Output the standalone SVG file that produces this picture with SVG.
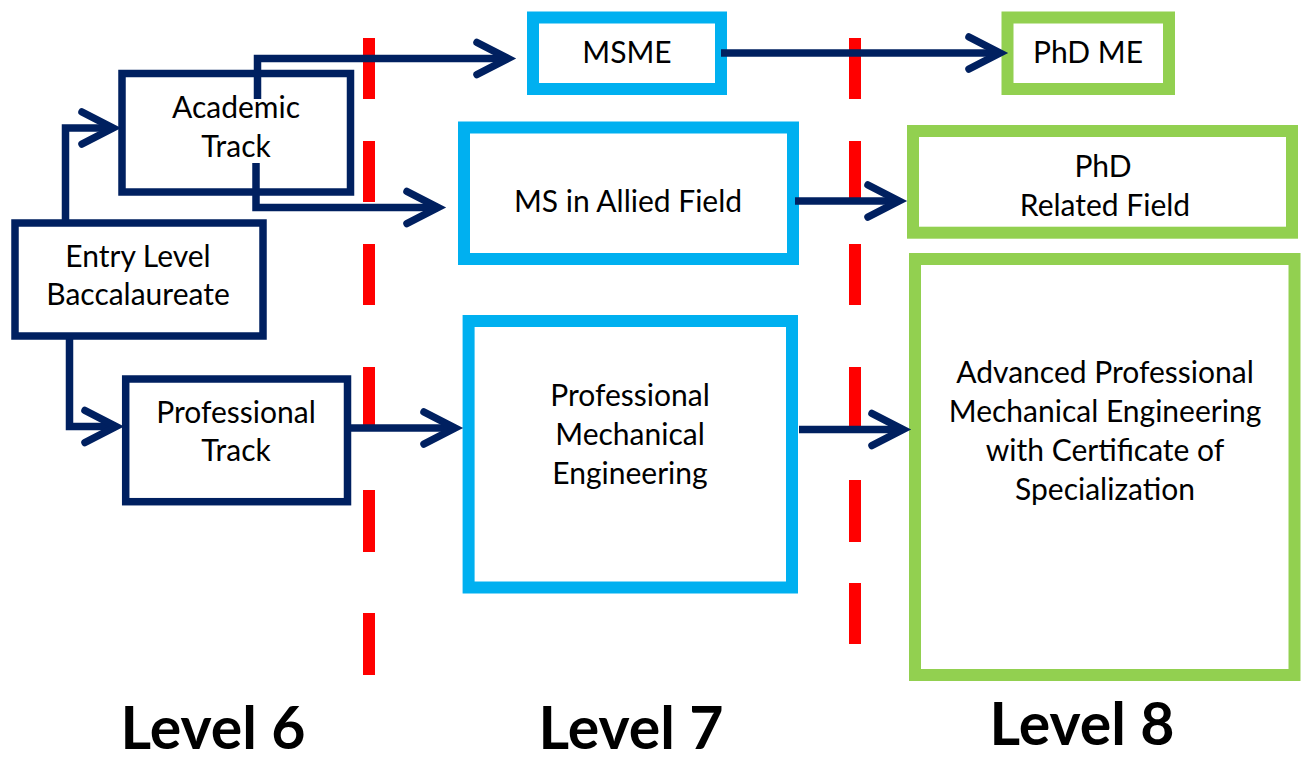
<svg xmlns="http://www.w3.org/2000/svg" width="1301" height="762" viewBox="0 0 1301 762">
<defs>
<style>
.dk{fill:none;stroke:#002060;stroke-width:7.5}
.lb{fill:none;stroke:#00B0F0;stroke-width:12}
.gr{fill:none;stroke:#92D050;stroke-width:12}
.t{font-family:Lato,"Liberation Sans",sans-serif;font-size:30px;fill:#000;text-anchor:middle}
.lv{font-family:Lato,"Liberation Sans",sans-serif;font-size:59px;font-weight:bold;fill:#000;text-anchor:middle}
.cn{fill:none;stroke:#002060;stroke-width:7.5;stroke-linejoin:miter}
.rd{stroke:#FF0000;stroke-width:12}
</style>
<marker id="ah" markerUnits="userSpaceOnUse" viewBox="-40 -22 46 44" refX="0" refY="0" markerWidth="46" markerHeight="44" orient="auto" overflow="visible">
<path d="M-31,-16 L0,0 L-31,16" fill="none" stroke="#002060" stroke-width="7.5" stroke-linecap="round" stroke-linejoin="miter"/>
</marker>
</defs>
<rect width="1301" height="762" fill="#fff"/>
<g id="dividers">
<path class="rd" d="M369,38V99M369,141V202M369,244V305M369,367V428M369,490V552M369,613V675"/>
<path class="rd" d="M855,38V99M855,141V202M855,244V305M855,367V428M855,480V542M855,583V644"/>
</g>
<g id="entry">
<rect class="dk" x="15" y="223" width="248" height="113"/>
<text class="t" x="138" y="267">Entry Level</text>
<text class="t" x="138" y="305">Baccalaureate</text>
</g>
<g id="academic">
<rect class="dk" x="122" y="73.5" width="228.5" height="118.5"/>
<text class="t" x="236" y="118">Academic</text>
<text class="t" x="236" y="157">Track</text>
</g>
<g id="professional">
<rect class="dk" x="125.7" y="379" width="221.8" height="122.7"/>
<text class="t" x="236" y="423">Professional</text>
<text class="t" x="236" y="461">Track</text>
</g>
<g id="msme">
<rect class="lb" x="533" y="17.5" width="188" height="71.5"/>
<text class="t" x="627" y="63">MSME</text>
</g>
<g id="msallied">
<rect class="lb" x="464" y="127.5" width="329" height="131.5"/>
<text class="t" x="628" y="212">MS in Allied Field</text>
</g>
<g id="profme">
<rect class="lb" x="468.6" y="321" width="323.4" height="266.5"/>
<text class="t" x="630" y="406">Professional</text>
<text class="t" x="630" y="445">Mechanical</text>
<text class="t" x="630" y="484">Engineering</text>
</g>
<g id="phdme">
<rect class="gr" x="1007.5" y="17.5" width="161.5" height="71.5"/>
<text class="t" x="1088" y="63">PhD ME</text>
</g>
<g id="phdrelated">
<rect class="gr" x="913" y="131" width="379" height="101.7"/>
<text class="t" x="1103" y="177">PhD</text>
<text class="t" x="1105" y="216">Related Field</text>
</g>
<g id="advanced">
<rect class="gr" x="915" y="259" width="379.5" height="416"/>
<text class="t" x="1105" y="383">Advanced Professional</text>
<text class="t" x="1105" y="422">Mechanical Engineering</text>
<text class="t" x="1105" y="461">with Certificate of</text>
<text class="t" x="1105" y="500">Specialization</text>
</g>
<g id="levels">
<text class="lv" x="213" y="749">Level 6</text>
<text class="lv" x="631" y="749">Level 7</text>
<text class="lv" x="1082" y="745">Level 8</text>
</g>
<g id="connectors">
<path class="cn" d="M65.5,220V128H113" marker-end="url(#ah)"/>
<path class="cn" d="M69.5,339V426.5H116" marker-end="url(#ah)"/>
<path class="cn" d="M257.5,99V58.5H508" marker-end="url(#ah)"/>
<path class="cn" d="M256,163V207.5H438" marker-end="url(#ah)"/>
<path class="cn" d="M348,428H455" marker-end="url(#ah)"/>
<path class="cn" d="M721,53H1000" marker-end="url(#ah)"/>
<path class="cn" d="M795,201H899" marker-end="url(#ah)"/>
<path class="cn" d="M799,429.5H903" marker-end="url(#ah)"/>
</g>
</svg>
